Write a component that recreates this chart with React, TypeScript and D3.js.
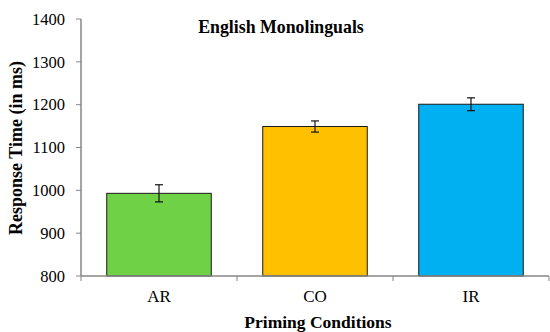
import React from "react";
import * as d3 from "d3";

const categories = ["AR", "CO", "IR"];
const values = [993, 1149, 1201];
const errors = [20, 13, 15];
const colors = ["#6fd246", "#ffc000", "#00b0f0"];
const yTicks = [800, 900, 1000, 1100, 1200, 1300, 1400];

const W = 550, H = 332;
const left = 81, right = 549, top = 19, bottom = 276;
const font = "Liberation Serif, DejaVu Serif, serif";

export default function App() {
  const x = d3.scaleBand<string>().domain(categories).range([left, right]).padding(0);
  const y = d3.scaleLinear().domain([800, 1400]).range([bottom, top]);
  const bw = x.bandwidth() * 0.67;
  const axisColor = "#868686";
  return (
    <svg width={W} height={H} style={{ position: "absolute", left: 0, top: 0, fontFamily: font }}>
      <rect width={W} height={H} fill="#fff" />
      {yTicks.map((t) => (
        <g key={t}>
          <line x1={left - 5} x2={left} y1={y(t)} y2={y(t)} stroke={axisColor} strokeWidth={1} />
          <text x={65} y={y(t)} dy="0.35em" textAnchor="end" style={{ fontSize: 16.5 }}>{t}</text>
        </g>
      ))}
      {categories.map((c, i) => {
        const cx = x(c)! + x.bandwidth() / 2;
        return (
          <g key={c}>
            <rect x={cx - bw / 2} y={y(values[i])} width={bw} height={bottom - y(values[i])}
              fill={colors[i]} stroke="#1a1a1a" strokeWidth={1} />
            <line x1={cx} x2={cx} y1={y(values[i] + errors[i])} y2={y(values[i] - errors[i])} stroke="#111" strokeWidth={1.2} />
            <line x1={cx - 4} x2={cx + 4} y1={y(values[i] + errors[i])} y2={y(values[i] + errors[i])} stroke="#111" strokeWidth={1.2} />
            <line x1={cx - 4} x2={cx + 4} y1={y(values[i] - errors[i])} y2={y(values[i] - errors[i])} stroke="#111" strokeWidth={1.2} />
            <text x={cx} y={302} textAnchor="middle" style={{ fontSize: 17 }}>{c}</text>
          </g>
        );
      })}
      {d3.range(categories.length + 1).map((i) => {
        const xx = left + i * x.bandwidth();
        return <line key={i} x1={xx} x2={xx} y1={bottom} y2={bottom + 5} stroke={axisColor} strokeWidth={1} />;
      })}
      <line x1={left} x2={left} y1={top} y2={bottom} stroke={axisColor} strokeWidth={1.5} />
      <line x1={left} x2={right} y1={bottom} y2={bottom} stroke={axisColor} strokeWidth={1.5} />
      <text x={281} y={33} textAnchor="middle" style={{ fontSize: 17.8, fontWeight: "bold" }}>English Monolinguals</text>
      <text x={318} y={328} textAnchor="middle" style={{ fontSize: 17.5, fontWeight: "bold" }}>Priming Conditions</text>
      <text transform="translate(22,148) rotate(-90)" textAnchor="middle" style={{ fontSize: 18, fontWeight: "bold" }}>Response Time (in ms)</text>
    </svg>
  );
}
